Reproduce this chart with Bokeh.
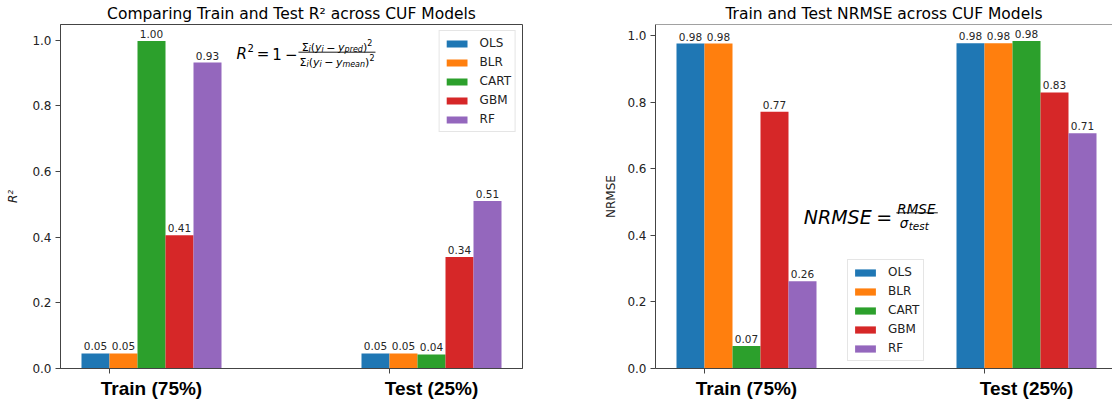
from bokeh.plotting import figure
from bokeh.models import (ColumnDataSource, Range1d, LinearAxis, FixedTicker,
                          PrintfTickFormatter, Label, LabelSet, Span)
from bokeh.core.properties import value
from bokeh.layouts import row
from bokeh.embed import file_html
from bokeh.resources import INLINE

# ---------------- data ----------------
models = ["OLS", "BLR", "CART", "GBM", "RF"]
colors = ["#1f77b4", "#ff7f0e", "#2ca02c", "#d62728", "#9467bd"]
splits = ["Train (75%)", "Test (25%)"]
y_ticks = [0.0, 0.2, 0.4, 0.6, 0.8, 1.0]

r2_ols = [0.046, 0.046]
r2_blr = [0.046, 0.046]
r2_cart = [0.998, 0.043]
r2_gbm = [0.406, 0.340]
r2_rf = [0.932, 0.510]

nrmse_ols = [0.977, 0.978]
nrmse_blr = [0.977, 0.978]
nrmse_cart = [0.068, 0.985]
nrmse_gbm = [0.772, 0.830]
nrmse_rf = [0.262, 0.707]

# ---------------- geometry / style ----------------
group_x = [0, 1]
bar_w = 0.1
offsets = [(i - 0.5) * bar_w for i in range(len(models))]
FONT = "DejaVu Sans"
SPINE = "#444444"
PX_PER_X = 280.0
FIG_H = 406
BORDER_TOP = 24
FRAME_H = 344
BORDER_BOTTOM = FIG_H - BORDER_TOP - FRAME_H
FRAME_BOTTOM = BORDER_TOP + FRAME_H

WIDTHS = {'R': .695, 'N': .748, 'M': .863, 'S': .635, 'E': .632, '=': .838, '−': .838,
          '1': .636, '2': .636, 'Σ': .632, '(': .390, ')': .390, 'y': .592,
          'i': .278, 'p': .635, 'r': .411, 'e': .615, 'd': .635, 'm': .974, 'a': .613,
          'n': .634, 'σ': .634, 't': .392, 's': .521}


def text_w(s, size):
    return sum(WIDTHS.get(ch, 0.6) for ch in s) * size


def seq(parts, x0, dy0):
    """parts: (text, size, style, dy) or a float gap in px."""
    out, x = [], x0
    for part in parts:
        if isinstance(part, (int, float)):
            x += part
            continue
        t, size, style, dy = part
        out.append((t, size, style, x, dy0 + dy))
        x += text_w(t, size)
    return out, x - x0


def put_runs(p, ax, ay, runs):
    for t, size, style, dx, dy in runs:
        p.add_layout(Label(x=ax, y=ay, x_offset=dx, y_offset=dy, text=t,
                           text_font=FONT, text_font_size=f"{size}px",
                           text_font_style=style, text_baseline="alphabetic",
                           text_align="left", text_color="black"))


def make_panel(width, b_left, b_right, title, title_dx, ylab, ylab_style,
               ylab_standoff, series, full_box):
    frame_w = width - b_left - b_right
    x0 = min(group_x) + offsets[0] - bar_w / 2
    x1 = max(group_x) + offsets[-1] + bar_w / 2
    x_start = x0 - 0.05 * (x1 - x0)
    x_end = x_start + frame_w / PX_PER_X
    ymax = max(max(s) for s in series)
    y_end = 1.05 * ymax
    upp = y_end / FRAME_H
    p = figure(width=width, height=FIG_H, output_backend="svg", toolbar_location=None,
               x_range=Range1d(x_start, x_end), y_range=Range1d(0, y_end),
               x_axis_location=None, y_axis_location=None, title=title,
               min_border_left=b_left, min_border_right=b_right,
               min_border_top=BORDER_TOP, min_border_bottom=BORDER_BOTTOM)
    p.grid.visible = False
    p.background_fill_color = "white"
    p.border_fill_color = "white"
    p.title.text_font = FONT
    p.title.text_font_size = "15.5px"
    p.title.text_font_style = "normal"
    p.title.text_color = "black"
    p.title.align = "center"
    p.title.offset = title_dx
    p.title.standoff = 4
    if full_box:
        p.outline_line_color = SPINE
        p.outline_line_width = 1
    else:
        p.outline_line_color = None
        p.add_layout(Span(location=y_end, dimension="width", line_color=SPINE, line_width=1))

    for m, c, off, vals in zip(models, colors, offsets, series):
        src = ColumnDataSource(dict(x=[g + off for g in group_x], top=vals,
                                    txt=[f"{v:.2f}" for v in vals]))
        p.vbar(x="x", top="top", width=bar_w, source=src, fill_color=c,
               line_color=None, legend_label=m)
        p.add_layout(LabelSet(x="x", y="top", text="txt", source=src,
                              text_align="center", text_baseline="alphabetic",
                              y_offset=3, text_font=value(FONT),
                              text_font_size="10.5px", text_color="#262626"))

    # y axis
    yax = LinearAxis(ticker=FixedTicker(ticks=y_ticks),
                     formatter=PrintfTickFormatter(format="%.1f"),
                     axis_label=ylab)
    yax.axis_line_color = SPINE
    yax.major_tick_line_color = SPINE
    yax.major_tick_out = 5
    yax.major_tick_in = 0
    yax.minor_tick_line_color = None
    yax.major_label_standoff = 4
    yax.major_label_text_font = FONT
    yax.major_label_text_font_size = "12px"
    yax.major_label_text_color = "#222222"
    yax.axis_label_text_font = FONT
    yax.axis_label_text_font_size = "12px"
    yax.axis_label_text_font_style = ylab_style
    yax.axis_label_text_color = "#222222"
    yax.axis_label_standoff = ylab_standoff
    p.add_layout(yax, "left")

    # x axis 1: tick marks at the group positions
    xt = LinearAxis(ticker=FixedTicker(ticks=group_x),
                    major_label_overrides={g: "" for g in group_x})
    xt.axis_line_color = SPINE
    xt.major_tick_line_color = SPINE
    xt.major_tick_out = 5
    xt.major_tick_in = 0
    xt.minor_tick_line_color = None
    xt.major_label_standoff = 0
    xt.major_label_text_font_size = "0px"
    xt.major_label_text_color = None
    p.add_layout(xt, "below")

    # x axis 2: group labels centred on the middle bar of each group
    mid = offsets[len(models) // 2]
    label_x = [g + mid for g in group_x]
    xl = LinearAxis(ticker=FixedTicker(ticks=label_x),
                    major_label_overrides={lx: s for lx, s in zip(label_x, splits)})
    xl.axis_line_color = None
    xl.major_tick_line_color = None
    xl.major_tick_out = 0
    xl.major_tick_in = 0
    xl.minor_tick_line_color = None
    xl.major_label_standoff = 4
    xl.major_label_text_font = "Liberation Sans"
    xl.major_label_text_font_style = "bold"
    xl.major_label_text_font_size = "19px"
    xl.major_label_text_color = "black"
    p.add_layout(xl, "below")

    leg = p.legend[0]
    leg.label_text_font = FONT
    leg.label_text_font_size = "12px"
    leg.label_text_color = "#222222"
    leg.glyph_width = 26
    leg.glyph_height = 9
    leg.label_height = 16
    leg.label_standoff = 10
    leg.spacing = 3
    leg.padding = 4
    leg.border_line_color = "#cccccc"
    leg.border_line_width = 1
    leg.background_fill_alpha = 0.8
    return p, x_start, upp


# ---------------- left panel: R^2 ----------------
L_BORDER = 60
left, lx0, l_upp = make_panel(575, L_BORDER, 53,
                              "Comparing Train and Test R² across CUF Models", 0,
                              "R²", "italic", 9,
                              [r2_ols, r2_blr, r2_cart, r2_gbm, r2_rf], True)
left.legend[0].location = "top_right"
left.legend[0].margin = 6

# formula R^2 = 1 - sum(y - ypred)^2 / sum(y - ymean)^2
fa_x = lx0 + (236 - L_BORDER) / PX_PER_X
fa_y = (FRAME_BOTTOM - 53.3) * l_upp
main_runs, main_w = seq([("R", 15, "italic", 0), 0.5, ("2", 10, "normal", 6), 3,
                         ("=", 15, "normal", 0), 3, ("1", 15, "normal", 0), 3,
                         ("−", 15, "normal", 0)], 0, 0)
num_parts = [("Σ", 11, "normal", 0), ("i", 8, "italic", -2), ("(", 11, "normal", 0),
             ("y", 11, "italic", 0), ("i", 8, "italic", -2), 2.5, ("−", 11, "normal", 0), 2.5,
             ("y", 11, "italic", 0), ("pred", 8, "italic", -2),
             (")", 11, "normal", 0), ("2", 8, "normal", 5)]
den_parts = [("Σ", 11, "normal", 0), ("i", 8, "italic", -2), ("(", 11, "normal", 0),
             ("y", 11, "italic", 0), ("i", 8, "italic", -2), 2.5, ("−", 11, "normal", 0), 2.5,
             ("y", 11, "italic", 0), ("mean", 8, "italic", -2), (")", 11, "normal", 0),
             ("2", 8, "normal", 5)]
_, nw = seq(num_parts, 0, 0)
_, dw = seq(den_parts, 0, 0)
fw = max(nw, dw)
fx = main_w + 2
num_runs, _ = seq(num_parts, fx + (fw - nw) / 2, 6)
den_runs, _ = seq(den_parts, fx + (fw - dw) / 2, -8.4)
put_runs(left, fa_x, fa_y, main_runs + num_runs + den_runs)
left.segment(x0=[fa_x + (fx - 1) / PX_PER_X], x1=[fa_x + (fx + fw + 1) / PX_PER_X],
             y0=[fa_y + 1.6 * l_upp], y1=[fa_y + 1.6 * l_upp],
             line_color="black", line_width=0.9)

# ---------------- right panel: NRMSE ----------------
R_FRAME_LEFT = 655
right, rx0, r_upp = make_panel(537, R_FRAME_LEFT - 575, 0,
                               "Train and Test NRMSE across CUF Models", 5,
                               "NRMSE", "normal", 6,
                               [nrmse_ols, nrmse_blr, nrmse_cart, nrmse_gbm, nrmse_rf], False)
right.legend[0].location = (192, 7)

fb_x = rx0 + (803.3 - R_FRAME_LEFT) / PX_PER_X
fb_y = (FRAME_BOTTOM - 216.7) * r_upp
put_runs(right, fb_x, fb_y, [
    ("NRMSE", 19, "italic", 0, 0),
    ("=", 19, "normal", 72.5, 0),
    ("RMSE", 13.5, "italic", 93.5, 8.4),
    ("σ", 13.5, "italic", 96, -5.6),
    ("test", 10.4, "italic", 105, -8.3),
])
right.segment(x0=[fb_x + 92.5 / PX_PER_X], x1=[fb_x + 134 / PX_PER_X],
              y0=[fb_y + 4.4 * r_upp], y1=[fb_y + 4.4 * r_upp],
              line_color="black", line_width=0.9)

layout = row(left, right)
open("out.html", "w").write(file_html(layout, INLINE))
